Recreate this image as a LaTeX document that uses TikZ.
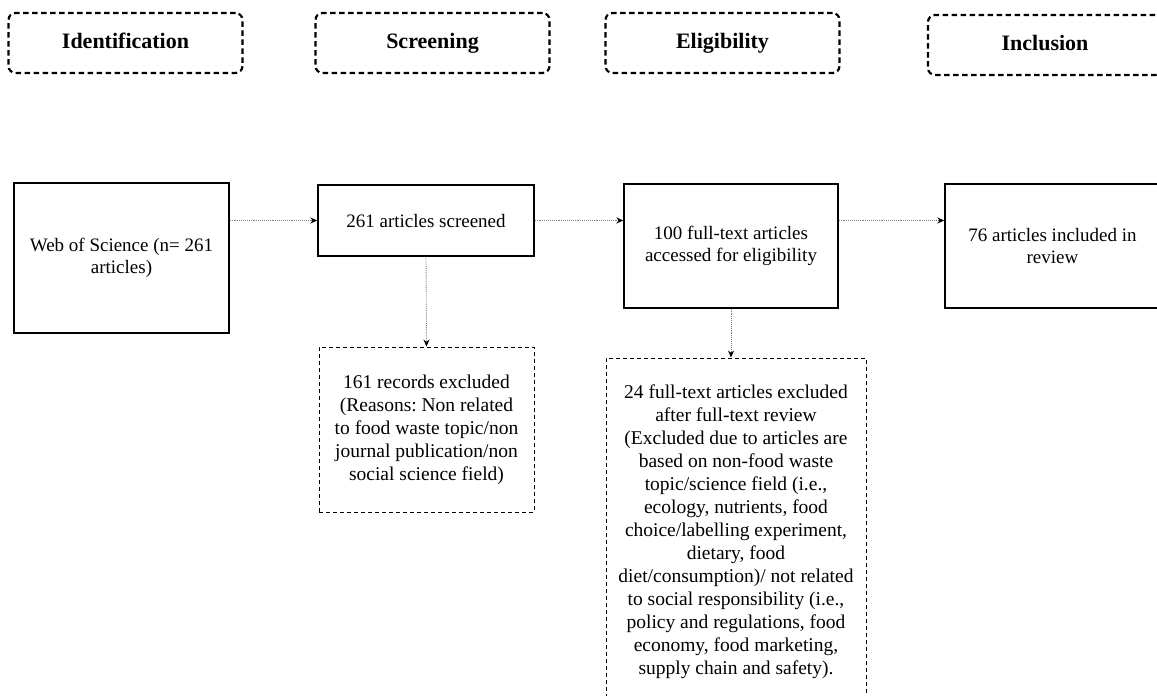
\documentclass[tikz,border=0pt]{standalone}
\usepackage{fontspec}
\setmainfont{Liberation Serif}
\frenchspacing
\usetikzlibrary{arrows.meta, positioning}
\tikzset{
    stage/.style={draw, line width=2.2pt, dash pattern=on 5.5pt off 3.5pt, rounded corners=7pt,
        minimum width=234pt, minimum height=60pt, inner sep=0pt, text height=16pt, text depth=5pt,
        font=\fontsize{22}{26}\selectfont\bfseries},
    recbox/.style={draw, line width=1.4pt, align=center, inner sep=0pt,
        font=\fontsize{19}{21.5}\selectfont},
    exbox/.style={draw, line width=0.9pt, dash pattern=on 4pt off 3pt, align=center, inner sep=0pt,
        font=\fontsize{19.5}{23}\selectfont},
    flow/.style={draw=gray, densely dotted, line width=0.9pt, -{Stealth[length=7pt, width=6pt, black]}}
}
\begin{document}
\begin{tikzpicture}[x=1pt, y=-1pt]
    \path[use as bounding box, clip] (0,0) rectangle (1157,696);
    % stage headers
    \node[stage] (hid) at (125.5,43) {Identification};
    \node[stage] (hsc) at (432.5,43) {Screening};
    \node[stage] (hel) at (722.5,43) {Eligibility};
    \node[stage] (hin) at (1045,45) {Inclusion};
    % records
    \node[recbox, minimum width=215pt, minimum height=150pt] (wos) at (121.5,258) {Web of Science (n= 261\\articles)};
    \node[recbox, minimum width=216pt, minimum height=71pt] (scr) at (426,220.5) {261 articles screened};
    \node[recbox, minimum width=214pt, minimum height=124pt] (ful) at (731,246) {100 full-text articles\\accessed for eligibility};
    \node[recbox, minimum width=215pt, minimum height=124pt] (inc) at (1052.5,246) {76 articles included in\\review};
    % exclusions
    \node[exbox, minimum width=215pt, minimum height=165pt] (ex1) at (426.5,429.5) {161 records excluded\\(Reasons: Non related\\to food waste topic/non\\journal publication/non\\social science field)};
    \node[exbox, minimum width=260pt, minimum height=348pt] (ex2) at (736,532) {24 full-text articles excluded\\after full-text review\\(Excluded due to articles are\\based on non-food waste\\topic/science field (i.e.,\\ecology, nutrients, food\\choice/labelling experiment,\\dietary, food\\diet/consumption)/ not related\\to social responsibility (i.e.,\\policy and regulations, food\\economy, food marketing,\\supply chain and safety).};
    % connectors
    \draw[flow] (wos.east |- scr.west) -- (scr.west);
    \draw[flow] (scr.east) -- (ful.west |- scr.east);
    \draw[flow] (ful.east |- scr.east) -- (inc.west |- scr.east);
    \draw[flow] (scr.south) -- (ex1.north);
    \draw[flow] (ful.south) -- (ful.south |- ex2.north);
\end{tikzpicture}
\end{document}
